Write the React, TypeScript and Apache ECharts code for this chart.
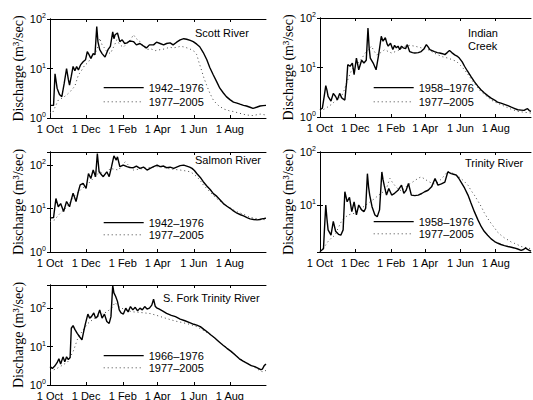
import React, { useEffect, useRef } from 'react';
import * as echarts from 'echarts';

type Pt = [number, number];

// Day of water year (0 = 1 Oct) for the tick labels
const MONTH_DAYS = [0, 61, 123, 182, 243, 304];
const MONTH_LABELS = ['1 Oct', '1 Dec', '1 Feb', '1 Apr', '1 Jun', '1 Aug'];

const PANEL_TITLES = ['Scott River', 'Indian\nCreek', 'Salmon River', 'Trinity River', 'S. Fork Trinity River'];
const EARLY_NAMES = ['1942\u20131976', '1958\u20131976', '1942\u20131976', '1958\u20131976', '1966\u20131976'];
const LATE_NAME = '1977\u20132005';
const Y_MIN = [1, 1, 1, 1.3, 1];
const Y_MAX = [100, 100, 200, 100, 400];

const SCOTT_EARLY: Pt[] = [
  [0, 1.8], [6, 1.8], [8.5, 7.8], [12, 4], [16, 3], [20, 2.7], [24, 5], [28, 10], [31, 6], [33, 4.6], [36, 7],
  [39, 11], [42, 9], [45, 11], [48, 9.3], [52, 12], [56, 13.7], [60, 15], [63, 22], [66, 19], [69, 16], [73, 20],
  [76, 19], [79, 70], [81, 35], [84, 24], [88, 20], [93, 17], [98, 24], [102, 28], [106, 55], [108, 40], [110, 48],
  [114, 52], [118, 35], [122, 38], [126, 32], [130, 33], [135, 36], [141, 35], [146, 30], [152, 32], [157, 29],
  [163, 26], [168, 30], [175, 30], [180, 34], [186, 32], [192, 30], [197, 32], [203, 33], [208, 30], [214, 34],
  [220, 38], [226, 40], [231, 39], [237, 37], [242, 35], [248, 31], [253, 27.5], [259, 21], [265, 15], [270, 10.5],
  [276, 7.4], [282, 5.3], [287, 4], [293, 3.2], [298, 2.7], [304, 2.35], [310, 2.1], [316, 2], [321, 1.9], [327, 1.8],
  [332, 1.75], [338, 1.65], [343, 1.57], [349, 1.65], [355, 1.75], [360, 1.78], [365, 1.8],
];
const SCOTT_LATE: Pt[] = [
  [0, 1.3], [4, 1.25], [8, 1.6], [14, 2.3], [20, 2.5], [28, 2.9], [35, 3.5], [42, 4.4], [48, 7.4], [53, 9], [59, 11.8],
  [64, 13], [68, 15.5], [72, 17], [76, 20], [80, 25], [84, 41], [88, 30], [91, 27], [96, 22], [102, 20], [108, 28],
  [113, 38], [118, 30], [124, 27], [130, 32], [136, 38], [141, 48], [146, 40], [152, 35], [158, 28], [163, 24],
  [170, 25], [178, 23], [186, 24], [195, 25], [202, 27], [208, 26], [215, 27], [220, 28], [225, 27.5], [232, 26],
  [239, 24], [244, 22], [248, 19], [252, 13], [256, 9.3], [260, 6.5], [265, 4.5], [270, 3.2], [276, 2.3], [282, 1.9],
  [287, 1.7], [295, 1.5], [303, 1.4], [310, 1.35], [320, 1.25], [332, 1.15], [343, 1.12], [355, 1.2], [365, 1.15],
];

const INDIAN_EARLY: Pt[] = [
  [0, 1.4], [4, 1.5], [7, 2.5], [10, 4.3], [12, 3.5], [14, 2.6], [19, 2.1], [23, 3.0], [27, 2.6], [30, 2.2], [34, 3.0],
  [38, 2.4], [43, 2.2], [46, 5], [48, 11.4], [52, 10.6], [56, 12.3], [59, 7.2], [63, 15.5], [67, 9], [72, 14],
  [76, 12.3], [80, 14], [83, 63], [85, 25], [87, 15.5], [92, 12.3], [97, 9], [101, 16.8], [106, 42.7], [109, 34],
  [113, 40], [116, 30], [118, 27], [122, 31], [126, 23], [129, 28], [132, 25], [135, 27], [138, 23], [141, 27],
  [144, 25], [148, 24], [151, 29], [155, 21], [160, 20], [164, 19.6], [170, 20], [175, 21], [180, 24], [184, 29],
  [187, 26], [190, 23], [194, 22], [198, 21], [203, 20], [207, 19.6], [212, 19], [216, 18.2], [220, 20], [224, 22],
  [228, 20], [233, 18], [237, 17], [241, 15.5], [246, 13], [250, 10.6], [255, 8.5], [261, 6.6], [267, 5.2], [273, 4.2],
  [278, 3.6], [284, 3.1], [290, 2.7], [296, 2.4], [302, 2.2], [307, 2.0], [313, 1.9], [319, 1.8], [325, 1.7],
  [330, 1.6], [336, 1.5], [342, 1.4], [348, 1.38], [353, 1.36], [356, 1.42], [359, 1.47], [362, 1.35], [365, 1.3],
];
const INDIAN_LATE: Pt[] = [
  [0, 1.3], [10, 1.5], [20, 1.8], [28, 2.2], [37, 2.6], [42, 3.5], [46, 4.9], [50, 6.5], [55, 9], [60, 10.5],
  [66, 12.3], [72, 15], [78, 19.6], [84, 23], [89, 27], [93, 22], [98, 18], [105, 20], [112, 23], [118, 21],
  [124, 19.6], [135, 22], [147, 27], [155, 28], [164, 27], [175, 25], [187, 23], [196, 20], [204, 18], [212, 16.5],
  [221, 15.5], [228, 14.5], [236, 13.3], [243, 11], [250, 9], [257, 7], [264, 5.3], [271, 4.2], [278, 3.3],
  [287, 2.7], [296, 2.2], [307, 1.9], [319, 1.65], [330, 1.45], [342, 1.3], [353, 1.25], [365, 1.2],
];

const SALMON_EARLY: Pt[] = [
  [0, 6.0], [6, 6.2], [10, 17], [14, 11], [18, 13], [23, 8.5], [28, 14.5], [33, 11], [36, 16], [39, 22.5], [44, 14.5],
  [48, 25], [51, 35], [56, 38], [61, 29], [65, 64], [69, 49], [73, 77], [77, 54], [80, 185], [83, 70], [87, 60],
  [90, 54], [96, 70], [100, 54], [104, 92], [108, 163], [112, 130], [114, 155], [118, 92], [124, 100], [130, 92],
  [135, 88], [141, 87], [146, 95], [152, 84], [158, 90], [164, 77], [170, 85], [175, 92], [181, 100], [186, 92],
  [192, 95], [197, 87], [203, 90], [209, 84], [214, 90], [220, 97], [226, 100], [231, 95], [236, 90], [240, 84],
  [244, 75], [248, 64], [254, 52], [259, 41.5], [265, 33], [271, 27], [276, 22], [282, 19], [288, 15.5], [293, 13],
  [299, 11.3], [305, 10], [310, 8.8], [316, 7.8], [322, 7.2], [327, 6.8], [333, 6.2], [338, 5.8], [344, 5.6],
  [350, 5.5], [355, 5.6], [358, 5.8], [362, 5.9], [365, 6],
];
const SALMON_LATE: Pt[] = [
  [0, 5], [8, 5.5], [14, 7], [20, 8.5], [26, 10], [31, 12], [37, 16], [42, 20], [48, 24], [54, 29], [63, 35],
  [68, 42], [73, 49], [79, 60], [85, 70], [89, 65], [93, 59], [97, 70], [102, 84], [109, 80], [116, 77], [122, 100],
  [127, 119], [134, 95], [141, 77], [150, 80], [158, 84], [170, 88], [180, 92], [190, 90], [197, 84], [208, 80],
  [220, 77], [228, 74], [237, 70], [243, 62], [248, 54], [254, 44], [259, 35], [267, 27], [276, 20], [284, 16],
  [293, 13], [301, 11], [310, 9.3], [318, 8.2], [327, 7.4], [335, 6.6], [344, 6], [355, 5.7], [365, 5.5],
];

const TRINITY_EARLY: Pt[] = [
  [0, 1.33], [6, 1.5], [8, 4], [10, 10], [12, 5.5], [14, 3.4], [19, 2.7], [23, 4.9], [27, 3.2], [32, 2.8], [36, 2.7],
  [40, 3.4], [43, 17.8], [47, 11.5], [51, 14], [55, 7.5], [59, 11.5], [63, 6.5], [67, 10], [72, 8.1], [76, 7.5],
  [79, 8.7], [82, 39], [84, 22], [86, 15.4], [90, 9.3], [95, 6.5], [99, 6.0], [103, 8.1], [107, 42], [109, 30],
  [111, 23.7], [115, 15.4], [119, 20.5], [124, 15.4], [129, 16.6], [135, 19], [141, 23.7], [145, 16.6], [149, 19],
  [153, 25.5], [158, 15.4], [164, 15], [170, 15.4], [176, 16.5], [181, 17.8], [187, 19], [193, 22], [199, 31.6],
  [204, 23.7], [210, 25], [216, 27], [221, 42], [227, 39], [231, 38], [236, 36.5], [240, 32], [244, 27], [250, 21],
  [256, 15.4], [261, 11], [267, 7.5], [273, 5.3], [279, 3.9], [284, 3.2], [290, 2.7], [296, 2.3], [302, 2.05],
  [308, 1.9], [313, 1.8], [319, 1.72], [325, 1.65], [331, 1.6], [336, 1.55], [342, 1.48], [348, 1.4], [352, 1.45],
  [356, 1.55], [359, 1.45], [362, 1.4], [365, 1.35],
];
const TRINITY_LATE: Pt[] = [
  [0, 1.33], [7, 1.6], [14, 2.05], [20, 2.4], [26, 2.7], [32, 3.8], [37, 4.9], [43, 5.8], [49, 6.5], [55, 6.8],
  [60, 7], [66, 7.8], [72, 8.7], [78, 9.8], [83, 10.7], [89, 12], [95, 13.3], [100, 15], [106, 16.6], [110, 18],
  [115, 20.5], [118, 26], [121, 31.6], [125, 27], [129, 23.7], [135, 20], [141, 18.5], [147, 21], [152, 24],
  [158, 26], [164, 29], [170, 32], [175, 34], [181, 31], [187, 28], [193, 26], [198, 25], [204, 27], [210, 31],
  [216, 37], [221, 43], [227, 41], [233, 38], [239, 35], [244, 31.6], [250, 27.5], [256, 23.7], [261, 19],
  [267, 15.4], [273, 12], [279, 9.3], [284, 7.2], [290, 5.6], [296, 4.5], [302, 3.7], [307, 3.1], [313, 2.7],
  [319, 2.4], [325, 2.2], [331, 2.0], [336, 1.9], [342, 1.78], [348, 1.65], [354, 1.6], [359, 1.55], [365, 1.5],
];

const SFORK_EARLY: Pt[] = [
  [0, 3.0], [4, 2.7], [8, 3.1], [12, 3.8], [15, 4.8], [18, 3.5], [22, 5.4], [25, 4], [28, 5.4], [31, 4.6], [34, 5.2],
  [36, 30], [39, 35], [42, 28], [46, 22], [50, 18], [54, 15], [57, 25], [60, 40], [64, 70], [67, 55], [70, 60],
  [74, 75], [77, 55], [80, 60], [84, 90], [88, 55], [92, 70], [96, 45], [100, 40], [103, 60], [106, 390], [108, 250],
  [111, 200], [114, 150], [117, 90], [120, 75], [124, 70], [128, 100], [132, 80], [136, 110], [140, 90], [144, 105],
  [148, 85], [152, 100], [156, 90], [160, 110], [164, 95], [168, 100], [172, 120], [175, 170], [178, 110],
  [181, 100], [184, 95], [190, 85], [197, 73], [205, 65], [212, 60], [220, 52], [228, 47], [236, 42], [243, 38],
  [248, 36], [254, 33], [260, 28], [266, 24], [272, 20], [278, 17], [285, 13.5], [292, 11], [299, 9], [306, 7.5],
  [313, 6], [320, 4.8], [327, 4.1], [334, 3.6], [340, 3.2], [346, 3], [352, 2.7], [356, 2.5], [359, 2.6],
  [362, 3.2], [365, 3.5],
];
const SFORK_LATE: Pt[] = [
  [0, 2.3], [10, 2.6], [20, 3.2], [30, 4], [36, 6], [40, 8], [46, 15], [52, 22], [58, 30], [64, 40], [72, 50],
  [80, 60], [88, 70], [96, 80], [104, 100], [110, 140], [116, 110], [124, 95], [132, 85], [140, 80], [150, 78],
  [160, 75], [170, 72], [180, 65], [190, 58], [200, 52], [212, 46], [224, 42], [236, 38], [248, 33], [260, 26],
  [272, 20], [284, 14], [296, 10], [308, 7], [320, 5], [332, 3.8], [344, 3], [354, 2.4], [360, 2.2], [365, 2.4],
];

const EARLY_DATA = [SCOTT_EARLY, INDIAN_EARLY, SALMON_EARLY, TRINITY_EARLY, SFORK_EARLY];
const LATE_DATA = [SCOTT_LATE, INDIAN_LATE, SALMON_LATE, TRINITY_LATE, SFORK_LATE];

// Layout (pixels)
const LAYOUT = [
  { left: 50, top: 19, width: 216, height: 99, titleLeft: 195, titleTop: 26, legLeft: 103, legTop: 82, legGap: 3 },
  { left: 320, top: 18, width: 211, height: 99, titleLeft: 468, titleTop: 26, legLeft: 373, legTop: 82, legGap: 3 },
  { left: 50, top: 152, width: 216, height: 100, titleLeft: 195, titleTop: 153, legLeft: 103, legTop: 217, legGap: 1 },
  { left: 320, top: 152, width: 211, height: 100, titleLeft: 465, titleTop: 156, legLeft: 373, legTop: 216, legGap: 1 },
  { left: 50, top: 285, width: 216, height: 100, titleLeft: 163, titleTop: 291, legLeft: 103, legTop: 350, legGap: 1 },
];

const SANS = 'Liberation Sans, Arial, sans-serif';
const SERIF = 'Liberation Serif, Times New Roman, serif';

function powLabel(v: number): string {
  const l = Math.log10(v);
  const e = Math.round(l);
  if (Math.abs(l - e) > 1e-6) return '';
  return `{b|10}{s|${e}}`;
}

export default function App() {
  const ref = useRef<HTMLDivElement>(null);
  useEffect(() => {
    if (!ref.current) return;
    const chart = echarts.init(ref.current, undefined, { renderer: 'svg' });
    const axisLine = { show: true, lineStyle: { color: '#000', width: 1 } };
    const option: any = {
      animation: false,
      backgroundColor: '#fff',
      title: LAYOUT.map((p, i) => ({
        text: PANEL_TITLES[i],
        left: p.titleLeft,
        top: p.titleTop,
        padding: 0,
        textStyle: { fontFamily: SANS, fontSize: 11, fontWeight: 'normal', color: '#000', lineHeight: 13 },
      })),
      legend: LAYOUT.map((p, i) => ({
        data: [EARLY_NAMES[i], LATE_NAME],
        left: p.legLeft,
        top: p.legTop,
        orient: 'vertical',
        itemWidth: 40,
        itemHeight: 14,
        itemGap: p.legGap,
        padding: 0,
        selectedMode: false,
        itemStyle: { opacity: 0 },
        lineStyle: { width: 'inherit' },
        textStyle: { fontFamily: SANS, fontSize: 11, color: '#000' },
      })),
      grid: LAYOUT.map((p) => ({
        left: p.left, top: p.top, width: p.width, height: p.height,
        containLabel: false, outerBoundsMode: 'none',
      })),
      xAxis: [
        ...LAYOUT.map((_, i) => ({
          type: 'value', gridIndex: i, min: 0, max: 365, position: 'bottom',
          axisLine,
          splitLine: { show: false },
          axisTick: { show: true, inside: true, length: 3, customValues: MONTH_DAYS, lineStyle: { color: '#000' } },
          axisLabel: {
            show: true, customValues: MONTH_DAYS, margin: 5,
            fontFamily: SANS, fontSize: 11, color: '#000',
            formatter: (v: number) => MONTH_LABELS[MONTH_DAYS.indexOf(Math.round(v))] ?? '',
          },
        })),
        ...LAYOUT.map((_, i) => ({
          type: 'value', gridIndex: i, min: 0, max: 365, position: 'top',
          axisLine,
          splitLine: { show: false },
          axisTick: { show: true, inside: true, length: 3, customValues: MONTH_DAYS, lineStyle: { color: '#000' } },
          axisLabel: { show: false },
        })),
      ],
      yAxis: [
        ...LAYOUT.map((_, i) => ({
          type: 'log', logBase: 10, gridIndex: i, min: Y_MIN[i], max: Y_MAX[i], position: 'left',
          name: 'Discharge (m\u00b3/sec)',
          nameLocation: 'middle',
          nameGap: 23,
          nameTextStyle: { fontFamily: SERIF, fontSize: 14, color: '#000' },
          axisLine,
          splitLine: { show: false },
          axisTick: { show: true, inside: true, length: 3, lineStyle: { color: '#000' } },
          axisLabel: {
            show: true, margin: 4, formatter: powLabel,
            rich: {
              b: { fontFamily: SANS, fontSize: 11, color: '#000', lineHeight: 14 },
              s: { fontFamily: SANS, fontSize: 7, color: '#000', verticalAlign: 'top', lineHeight: 8 },
            },
          },
        })),
        ...LAYOUT.map((_, i) => ({
          type: 'log', logBase: 10, gridIndex: i, min: Y_MIN[i], max: Y_MAX[i], position: 'right',
          axisLine,
          splitLine: { show: false },
          axisTick: { show: true, inside: true, length: 3, lineStyle: { color: '#000' } },
          axisLabel: { show: false },
        })),
      ],
      series: [
        ...LATE_DATA.map((d, i) => ({
          type: 'line', name: LATE_NAME, xAxisIndex: i, yAxisIndex: i, data: d,
          symbol: 'none', silent: true,
          itemStyle: { color: '#444' },
          lineStyle: { color: '#444', width: 1, type: [1, 3] },
        })),
        ...EARLY_DATA.map((d, i) => ({
          type: 'line', name: EARLY_NAMES[i], xAxisIndex: i, yAxisIndex: i, data: d,
          symbol: 'none', silent: true,
          itemStyle: { color: '#000' },
          lineStyle: { color: '#000', width: 1.4 },
        })),
      ],
    };
    chart.setOption(option);
    return () => chart.dispose();
  }, []);
  return (
    <div
      ref={ref}
      style={{ position: 'absolute', left: 0, top: 0, width: 533, height: 400, background: '#fff' }}
    />
  );
}
